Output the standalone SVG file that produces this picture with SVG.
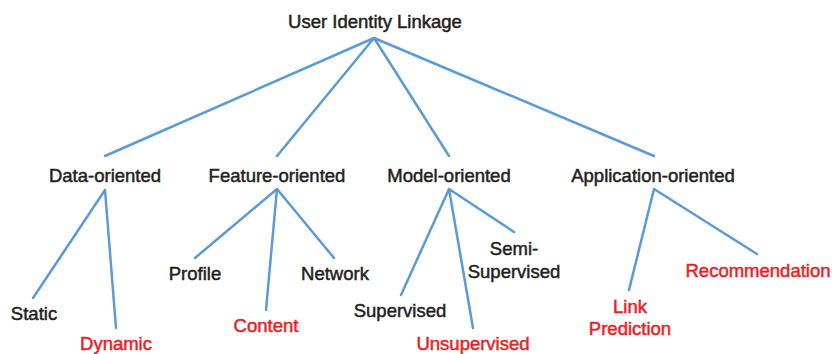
<svg xmlns="http://www.w3.org/2000/svg" width="832" height="354" viewBox="0 0 832 354">
<style>
.t{font-family:"Liberation Sans",Arial,sans-serif;font-size:18.5px;fill:#231f20;stroke:#231f20;stroke-width:0.5;text-anchor:middle}
.r{fill:#ed1c24;stroke:#ed1c24}
.e{stroke:#5b9bd5;stroke-width:2.5;fill:none;stroke-linecap:round}
</style>
<rect width="832" height="354" fill="#fff"/>
<g id="connectors" class="e">
<path d="M374 38L105 156M374 38L277 156M374 38L449 156M374 38L654 156"/>
<path d="M105 190L33 298M105 190L116 328"/>
<path d="M277 189L195 258M277 189L266 310M277 189L334 258"/>
<path d="M449 189L401 295M449 189L473 328M449 189L514 232"/>
<path d="M654 189L629 290M654 189L757 254"/>
</g>
<g id="root"><text class="t" x="375" y="28">User Identity Linkage</text></g>
<g id="data"><text class="t" x="105" y="182">Data-oriented</text></g>
<g id="feature"><text class="t" x="277" y="182">Feature-oriented</text></g>
<g id="model"><text class="t" x="449" y="182">Model-oriented</text></g>
<g id="application"><text class="t" x="653" y="182">Application-oriented</text></g>
<g id="static"><text class="t" x="34" y="320">Static</text></g>
<g id="dynamic"><text class="t r" x="116" y="350">Dynamic</text></g>
<g id="profile"><text class="t" x="195" y="280">Profile</text></g>
<g id="content"><text class="t r" x="266" y="332">Content</text></g>
<g id="network"><text class="t" x="335" y="280">Network</text></g>
<g id="supervised"><text class="t" x="400" y="317">Supervised</text></g>
<g id="unsupervised"><text class="t r" x="473" y="350">Unsupervised</text></g>
<g id="semi"><text class="t" x="514" y="255">Semi-</text><text class="t" x="514" y="278">Supervised</text></g>
<g id="link"><text class="t r" x="630" y="313">Link</text><text class="t r" x="630" y="335">Prediction</text></g>
<g id="recommendation"><text class="t r" x="758" y="277">Recommendation</text></g>
</svg>
